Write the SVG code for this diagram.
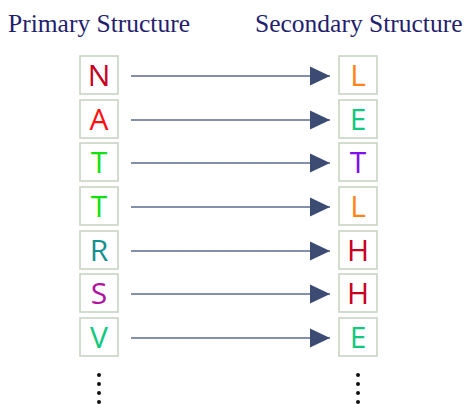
<svg xmlns="http://www.w3.org/2000/svg" width="465" height="404" viewBox="0 0 465 404">
  <style>
    .title { font-family: "Liberation Serif", "Times New Roman", serif; font-size: 25.5px; fill: #231e6e; }
    .box { fill: #ffffff; stroke: #c9d5c3; stroke-width: 1.6; }
    .res { font-family: "Open Sans", "Noto Sans", sans-serif; font-size: 30px; text-anchor: middle; }
    .link { stroke: #5b6b8d; stroke-width: 1.6; fill: none; marker-end: url(#head); }
    .dot { fill: #111111; }
  </style>
  <defs>
    <marker id="head" markerUnits="userSpaceOnUse" markerWidth="21" markerHeight="21" refX="20" refY="10.5" orient="auto">
      <path d="M0,1 L20,10.5 L0,20 Z" fill="#3b4b72"/>
    </marker>
  </defs>
  <rect width="465" height="404" fill="#ffffff"/>

  <text class="title" x="8" y="32">Primary Structure</text>
  <text class="title" x="255" y="32">Secondary Structure</text>

  <!-- connectors: primary residue to secondary state -->
  <g id="connectors">
    <line class="link" x1="131" y1="76" x2="330" y2="76"/>
    <line class="link" x1="131" y1="120" x2="330" y2="120"/>
    <line class="link" x1="131" y1="163" x2="330" y2="163"/>
    <line class="link" x1="131" y1="207" x2="330" y2="207"/>
    <line class="link" x1="131" y1="251" x2="330" y2="251"/>
    <line class="link" x1="131" y1="294" x2="330" y2="294"/>
    <line class="link" x1="131" y1="338" x2="330" y2="338"/>
  </g>

  <!-- primary structure column -->
  <g id="p1"><rect class="box" x="80" y="56" width="38" height="38"/><text class="res" x="99" y="86" fill="#c8001e">N</text></g>
  <g id="p2"><rect class="box" x="80" y="100" width="38" height="38"/><text class="res" x="99" y="130" fill="#ff1010">A</text></g>
  <g id="p3"><rect class="box" x="80" y="143" width="38" height="38"/><text class="res" x="99" y="173" fill="#10e010">T</text></g>
  <g id="p4"><rect class="box" x="80" y="187" width="38" height="38"/><text class="res" x="99" y="217" fill="#10e010">T</text></g>
  <g id="p5"><rect class="box" x="80" y="231" width="38" height="38"/><text class="res" x="99" y="261" fill="#14908e">R</text></g>
  <g id="p6"><rect class="box" x="80" y="274" width="38" height="38"/><text class="res" x="99" y="304" fill="#b0129e">S</text></g>
  <g id="p7"><rect class="box" x="80" y="318" width="38" height="38"/><text class="res" x="99" y="348" fill="#10c87e">V</text></g>

  <!-- secondary structure column -->
  <g id="s1"><rect class="box" x="339" y="56" width="38" height="38"/><text class="res" x="358" y="86" fill="#ff8418">L</text></g>
  <g id="s2"><rect class="box" x="339" y="100" width="38" height="38"/><text class="res" x="358" y="130" fill="#10c87e">E</text></g>
  <g id="s3"><rect class="box" x="339" y="143" width="38" height="38"/><text class="res" x="358" y="173" fill="#8010f0">T</text></g>
  <g id="s4"><rect class="box" x="339" y="187" width="38" height="38"/><text class="res" x="358" y="217" fill="#ff8418">L</text></g>
  <g id="s5"><rect class="box" x="339" y="231" width="38" height="38"/><text class="res" x="358" y="261" fill="#c8001e">H</text></g>
  <g id="s6"><rect class="box" x="339" y="274" width="38" height="38"/><text class="res" x="358" y="304" fill="#c8001e">H</text></g>
  <g id="s7"><rect class="box" x="339" y="318" width="38" height="38"/><text class="res" x="358" y="348" fill="#10c87e">E</text></g>

  <!-- continuation dots -->
  <g id="more-left">
    <circle class="dot" cx="99" cy="375" r="2"/><circle class="dot" cx="99" cy="384" r="2"/>
    <circle class="dot" cx="99" cy="393" r="2"/><circle class="dot" cx="99" cy="402" r="2"/>
  </g>
  <g id="more-right">
    <circle class="dot" cx="358" cy="375" r="2"/><circle class="dot" cx="358" cy="384" r="2"/>
    <circle class="dot" cx="358" cy="393" r="2"/><circle class="dot" cx="358" cy="402" r="2"/>
  </g>
</svg>
